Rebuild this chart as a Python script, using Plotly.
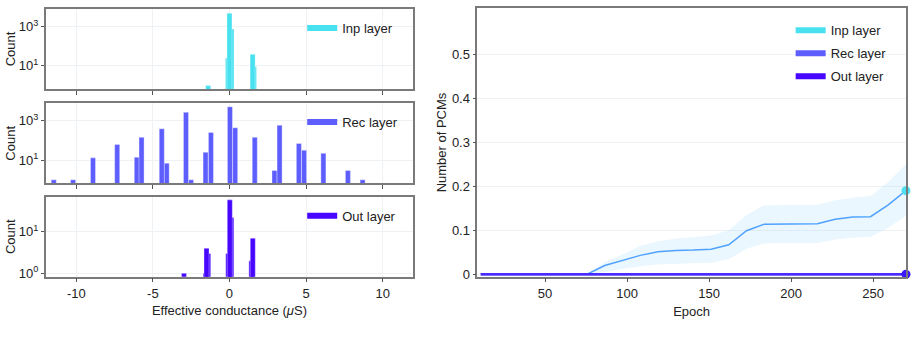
import plotly.graph_objects as go

# histogram bars: bin centre (uS) and count
inp_g = [-1.39, -0.1, 0.0, 0.13, 1.51, 1.6]
inp_n = [1, 25, 4800, 760, 39, 9]

rec_g = [-11.47, -10.21, -8.91, -7.33, -6.05, -5.74, -4.42, -4.10, -2.84, -2.51, -1.56,
         -1.21, 0.03, 0.37, 1.65, 2.94, 3.27, 4.53, 4.87, 6.13, 7.73, 8.69]
rec_n = [1, 1, 13, 63, 14, 144, 390, 7, 2700, 1, 25, 257, 5150, 440, 144, 3, 600, 70, 32,
         22, 3, 1]

out_g = [-2.97, -1.56, -1.5, -1.39, -0.08, 0.02, 0.12, 1.43, 1.52]
out_n = [1, 1, 4, 3, 3, 58, 22, 2, 7]

x_ticks = [-10, -5, 0, 5, 10]
x_ticklabels = ["-10", "-5", "0", "5", "10"]

# number of PCMs over training
epochs = [10.8, 21.6, 32.4, 43.2, 54, 64.8, 75.6, 86.4, 97.2, 108, 118.8, 129.6, 140.4,
          151.2, 162, 172.8, 183.6, 194.4, 205.2, 216, 226.8, 237.6, 248.4, 259.2, 270]
inp_mean = [0, 0, 0, 0, 0, 0, 0, 0.02, 0.031, 0.043, 0.051, 0.054, 0.055, 0.057, 0.067,
            0.099, 0.114, 0.114, 0.115, 0.115, 0.125, 0.130, 0.131, 0.158, 0.19]
inp_hi = [0, 0, 0, 0, 0, 0, 0, 0.028, 0.045, 0.065, 0.075, 0.081, 0.084, 0.088, 0.1,
          0.135, 0.157, 0.157, 0.157, 0.158, 0.168, 0.174, 0.178, 0.21, 0.25]
inp_lo = [0, 0, 0, 0, 0, 0, 0, 0.005, 0.012, 0.018, 0.022, 0.024, 0.025, 0.026, 0.034,
          0.058, 0.07, 0.071, 0.071, 0.071, 0.079, 0.083, 0.085, 0.106, 0.133]
rec_mean = [0, 0, 0, 0, 0, 0, 0, 0, 0, 0, 0, 0, 0, 0, 0, 0, 0, 0, 0, 0, 0, 0, 0, 0, 0]
out_mean = [0, 0, 0, 0, 0, 0, 0, 0, 0, 0, 0, 0, 0, 0, 0, 0, 0, 0, 0, 0, 0, 0, 0, 0, 0]

names = ["Inp layer", "Rec layer", "Out layer"]
colors = ["#47E1F0", "#5E5EFF", "#4606FF"]
FONT = "Liberation Sans, Arial, sans-serif"

fig = go.Figure()

hists = [(inp_g, inp_n), (rec_g, rec_n), (out_g, out_n)]
for i, (g, n) in enumerate(hists):
    # draw tallest bars last so the overlapping shoulders stay visible
    pts = sorted(zip(n, g))
    fig.add_trace(go.Bar(
        x=[p[1] for p in pts], y=[p[0] for p in pts], width=0.33,
        marker=dict(color=colors[i], line=dict(color="rgba(255,255,255,0.35)", width=1)),
        xaxis="x" if i == 0 else f"x{i+1}", yaxis="y" if i == 0 else f"y{i+1}",
        showlegend=False, name=names[i]))
    # legend entry for the panel
    fig.add_trace(go.Scatter(
        x=[None], y=[None], mode="lines", name=names[i],
        line=dict(color=colors[i], width=6),
        xaxis="x" if i == 0 else f"x{i+1}", yaxis="y" if i == 0 else f"y{i+1}",
        legend=f"legend{i+2}"))

# right panel
fig.add_trace(go.Scatter(x=epochs, y=inp_hi, mode="lines", line=dict(width=0),
                         xaxis="x4", yaxis="y4", showlegend=False, hoverinfo="skip"))
fig.add_trace(go.Scatter(x=epochs, y=inp_lo, mode="lines", line=dict(width=0),
                         fill="tonexty", fillcolor="rgba(90,190,250,0.12)",
                         xaxis="x4", yaxis="y4", showlegend=False, hoverinfo="skip"))
fig.add_trace(go.Scatter(x=epochs, y=inp_mean, mode="lines",
                         line=dict(color="#4FA2FF", width=1.5),
                         xaxis="x4", yaxis="y4", showlegend=False))
fig.add_trace(go.Scatter(x=epochs, y=rec_mean, mode="lines",
                         line=dict(color="#6363FF", width=2.5),
                         xaxis="x4", yaxis="y4", showlegend=False))
fig.add_trace(go.Scatter(x=epochs, y=out_mean, mode="lines",
                         line=dict(color="#4A2AFF", width=2.5),
                         xaxis="x4", yaxis="y4", showlegend=False))
fig.add_trace(go.Scatter(x=epochs[-1:], y=inp_mean[-1:], mode="markers",
                         marker=dict(color="#4DE0F2", size=9), cliponaxis=False,
                         xaxis="x4", yaxis="y4", showlegend=False))
fig.add_trace(go.Scatter(x=epochs[-1:], y=out_mean[-1:], mode="markers",
                         marker=dict(color="#3A18FF", size=9), cliponaxis=False,
                         xaxis="x4", yaxis="y4", showlegend=False))
for i in range(3):
    fig.add_trace(go.Scatter(x=[None], y=[None], mode="lines", name=names[i],
                             line=dict(color=colors[i], width=6),
                             legendgroup=names[i], xaxis="x4", yaxis="y4"))

frame = dict(showline=True, mirror=True, linecolor="#7a7a7a", linewidth=1.5,
             gridcolor="#EEF2F5", zeroline=False, ticks="outside", tickcolor="#555",
             tickfont=dict(size=13, color="#222"), automargin=False)

ydoms = [[0.7398, 0.9737], [0.4640, 0.6980], [0.1909, 0.4249]]
logticks = [[1, 3], [1, 3], [0, 1]]
lograng = [[-0.18, 3.90], [-0.18, 3.89], [-0.08, 1.84]]
lay = {}
for i in range(3):
    sfx = "" if i == 0 else str(i + 1)
    lay[f"xaxis{sfx}"] = dict(frame, domain=[0.0500, 0.4527], range=[-12, 12],
                              tickvals=x_ticks, ticktext=x_ticklabels,
                              ticklen=4, showticklabels=(i == 2), anchor=f"y{sfx}")
    lay[f"yaxis{sfx}"] = dict(frame, domain=ydoms[i], type="log", range=lograng[i],
                              tickvals=[10 ** k for k in logticks[i]],
                              ticktext=[f"10<sup>{k}</sup>" for k in logticks[i]],
                              ticklen=3, anchor=f"x{sfx}",
                              title=dict(text="Count", standoff=0,
                                         font=dict(size=13, color="#222")))
lay["xaxis3"]["title"] = dict(text="Effective conductance (<i>μ</i>S)", standoff=6,
                              font=dict(size=13, color="#222"))
lay["xaxis4"] = dict(frame, domain=[0.5228, 0.9923], range=[8.7, 270], dtick=50,
                     ticklen=4, showgrid=False, anchor="y4",
                     title=dict(text="Epoch", standoff=7, font=dict(size=13, color="#222")))
lay["yaxis4"] = dict(frame, domain=[0.1909, 0.9757], range=[-0.0055, 0.6045],
                     tickvals=[0, 0.1, 0.2, 0.3, 0.4, 0.5], ticklen=3, anchor="x4",
                     title=dict(text="Number of PCMs", standoff=2,
                                font=dict(size=13, color="#222")))

leg = dict(font=dict(size=13, color="#222"), bgcolor="rgba(0,0,0,0)",
           xanchor="left", yanchor="top")
fig.update_layout(
    width=913, height=342,
    margin=dict(l=0, r=0, t=0, b=0),
    paper_bgcolor="white", plot_bgcolor="white",
    font=dict(family=FONT, size=13, color="#222"),
    barmode="overlay",
    legend=dict(leg, x=0.866, y=0.955, tracegroupgap=3),
    legend2=dict(leg, x=0.331, y=0.962),
    legend3=dict(leg, x=0.331, y=0.687),
    legend4=dict(leg, x=0.331, y=0.413),
    **lay,
)

fig.write_html("out.html", config={"displayModeBar": False},
               post_script="document.body.style.margin='0';")
